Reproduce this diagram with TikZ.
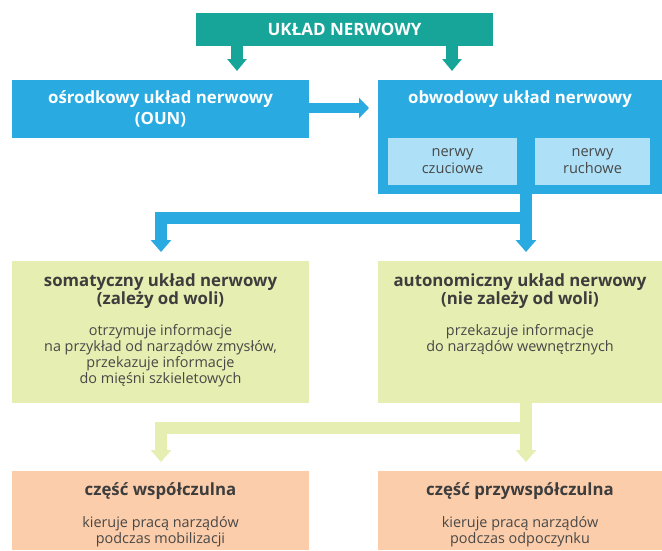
\documentclass[tikz,border=0pt]{standalone}
\usepackage{fontspec}
\setmainfont{Open Sans}
\usetikzlibrary{arrows.meta,positioning}
\definecolor{tealbox}{HTML}{17A499}
\definecolor{bluebox}{HTML}{29ABE2}
\definecolor{lightblue}{HTML}{AEE1F8}
\definecolor{greenbox}{HTML}{E7EEB1}
\definecolor{orangebox}{HTML}{FBCDAA}
\definecolor{darktxt}{HTML}{3D3D3D}
\definecolor{bodygray}{HTML}{484848}
\tikzset{
 box/.style={inner sep=0pt, minimum width=297pt, align=center},
 headtxt/.style={font=\bfseries\fontsize{16.8}{17.5}\selectfont, align=center, text=darktxt, inner sep=0pt},
 bodytxt/.style={font=\fontsize{14.4}{16.2}\selectfont, align=center, text=bodygray, inner sep=0pt},
 fat/.style={line width=12pt, line join=miter, -{Triangle[width=20pt,length=12pt]}},
}

\begin{document}
\begin{tikzpicture}[x=1pt,y=-1pt]
 \useasboundingbox (0,0) rectangle (662,550);
 %% top
 \node[box, fill=tealbox, minimum height=33pt, text=white, font=\bfseries\fontsize{17}{17}\selectfont] (uklad) at (344.5,29.5) {UKŁAD NERWOWY};
 \coordinate (t1) at (237,71);
 \coordinate (t2) at (452,71);
 \draw[fat, draw=tealbox, -{Triangle[width=19pt,length=12pt]}] (uklad.south -| t1) -- (t1);
 \draw[fat, draw=tealbox, -{Triangle[width=19pt,length=12pt]}] (uklad.south -| t2) -- (t2);

 %% blue row
 \node[box, fill=bluebox, minimum height=58pt, text=white, font=\bfseries\fontsize{16.8}{21}\selectfont] (oun) at (160.5,109) {ośrodkowy układ nerwowy\\(OUN)};
 \node[box, fill=bluebox, minimum width=284pt, minimum height=114pt] (obw) at (520,137) {};
 \node[headtxt, text=white] (obwt) at (520,99) {obwodowy układ nerwowy};
 \node[box, fill=lightblue, minimum width=129pt, minimum height=47pt, bodytxt, font=\fontsize{14.6}{17}\selectfont] (czuc) at (452.5,161.5) {nerwy\\czuciowe};
 \node[box, fill=lightblue, minimum width=115pt, minimum height=47pt, bodytxt, font=\fontsize{14.6}{17}\selectfont] (ruch) at (592.5,161.5) {nerwy\\ruchowe};
 \coordinate (t3) at (369,108);
 \draw[line width=10pt, draw=bluebox, -{Triangle[width=20pt,length=10pt]}] (oun.east |- t3) -- (t3);

 %% blue branch
 \coordinate (b1) at (526,218);
 \coordinate (t4) at (161,252);
 \coordinate (t5) at (526,252);
 \draw[fat, draw=bluebox] (obw.south -| b1) -- (t5);
 \draw[fat, draw=bluebox] (b1) -| (t4);

 %% green row
 \node[box, fill=greenbox, minimum height=142pt] (soma) at (160.5,332) {};
 \node[box, fill=greenbox, minimum width=284pt, minimum height=142pt] (auto) at (520,332) {};
 \node[headtxt, anchor=north] (somat) at (160.5,274) {somatyczny układ nerwowy\\(zależy od woli)};
 \node[bodytxt, anchor=north] (somab) at (160.5,324) {otrzymuje informacje\\na przykład od narządów zmysłów,\\przekazuje informacje\\do mięśni szkieletowych};
 \node[headtxt, anchor=north] (autot) at (520,274) {autonomiczny układ nerwowy\\(nie zależy od woli)};
 \node[bodytxt, anchor=north] (autob) at (520,324) {przekazuje informacje\\do narządów wewnętrznych};

 %% green branch
 \coordinate (b2) at (526,428);
 \coordinate (t6) at (161,462);
 \coordinate (t7) at (526,462);
 \draw[fat, draw=greenbox] (auto.south -| b2) -- (t7);
 \draw[fat, draw=greenbox] (b2) -| (t6);

 %% orange row
 \node[box, fill=orangebox, minimum height=79pt] (wsp) at (160.5,510.5) {};
 \node[box, fill=orangebox, minimum width=284pt, minimum height=79pt] (przy) at (520,510.5) {};
 \node[headtxt] (wspt) at (160.5,491) {część współczulna};
 \node[bodytxt, anchor=north] (wspb) at (160.5,516) {kieruje pracą narządów\\podczas mobilizacji};
 \node[headtxt] (przyt) at (520,491) {część przywspółczulna};
 \node[bodytxt, anchor=north] (przyb) at (520,516) {kieruje pracą narządów\\podczas odpoczynku};
\end{tikzpicture}
\end{document}
